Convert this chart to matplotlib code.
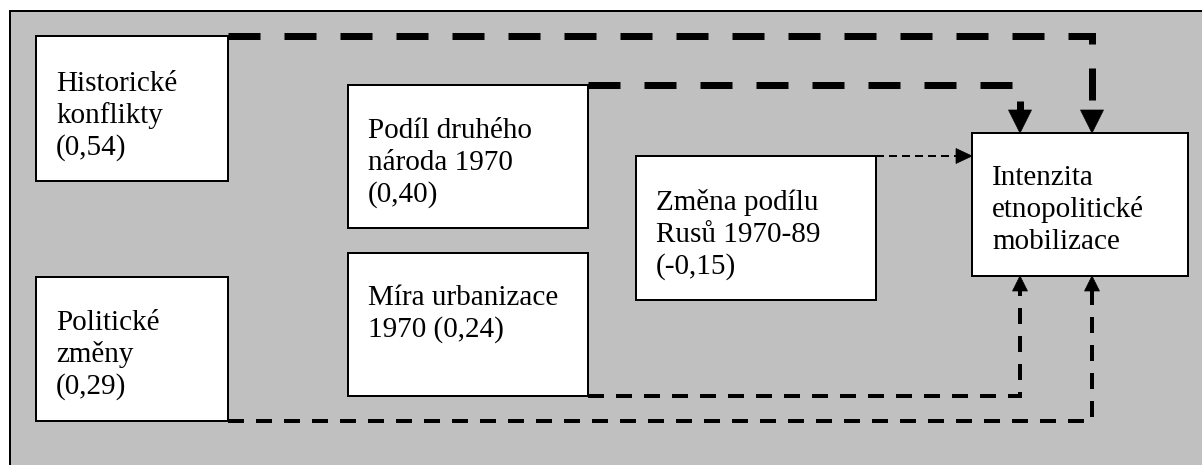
import matplotlib
matplotlib.use("Agg")
import matplotlib.pyplot as plt
from matplotlib.patches import Rectangle, Polygon

plt.rcParams['lines.scale_dashes'] = False

# ---- content (labels and path coefficients) ----
factor_names = [
    ["Historické", "konflikty"],
    ["Podíl druhého", "národa 1970"],
    ["Změna podílu", "Rusů 1970-89"],
    ["Míra urbanizace", "1970"],
    ["Politické", "změny"],
]
coefficients = ["0,54", "0,40", "-0,15", "0,24", "0,29"]
target_name = ["Intenzita", "etnopolitické", "mobilizace"]

# ---- layout (pixel coordinates, y downward) ----
W, H = 1202, 465
DPI = 100
PX = 72.0 / DPI  # px -> pt

boxes = [  # x0, y0, x1, y1, first baseline
    (36, 36, 228, 181, 91),
    (348, 85, 588, 228, 138),
    (636, 156, 876, 300, 210),
    (348, 253, 588, 396, 305),
    (36, 277, 228, 421, 330),
]
target_box = (972, 133, 1188, 276, 185)

fig = plt.figure(figsize=(W / DPI, H / DPI), dpi=DPI)
ax = fig.add_axes([0, 0, 1, 1])
ax.set_xlim(0, W)
ax.set_ylim(H, 0)
ax.axis('off')

# background frame
ax.add_patch(Rectangle((10, 11), W + 20, H + 20, facecolor='#c0c0c0',
                       edgecolor='black', linewidth=2 * PX, zorder=0))

font = dict(family=['Liberation Serif', 'DejaVu Serif'], fontsize=21,
            color='black', va='baseline', ha='left')
LS = 32

def draw_box(x0, y0, x1, y1, base, lines):
    ax.add_patch(Rectangle((x0, y0), x1 - x0, y1 - y0, facecolor='white',
                           edgecolor='black', linewidth=2 * PX, zorder=3))
    for k, t in enumerate(lines):
        ax.text(x0 + 20, base + k * LS, t, zorder=4, **font)

for i, (name, coef) in enumerate(zip(factor_names, coefficients)):
    if i == 3:
        lines = [name[0], name[1] + " (" + coef + ")"]
    else:
        lines = name + ["(" + coef + ")"]
    draw_box(*boxes[i], lines)
draw_box(*target_box, target_name)

def dashed_path(xs, ys, lw, on, off):
    ax.plot(xs, ys, color='black', linewidth=lw * PX,
            dashes=(on * PX, off * PX), dash_capstyle='butt',
            dash_joinstyle='miter', solid_joinstyle='miter', zorder=2)

def head(tip_x, tip_y, direction, length, width):
    if direction == 'down':
        pts = [(tip_x, tip_y), (tip_x - width / 2, tip_y - length), (tip_x + width / 2, tip_y - length)]
    elif direction == 'up':
        pts = [(tip_x, tip_y), (tip_x - width / 2, tip_y + length), (tip_x + width / 2, tip_y + length)]
    else:  # right
        pts = [(tip_x, tip_y), (tip_x - length, tip_y - width / 2), (tip_x - length, tip_y + width / 2)]
    ax.add_patch(Polygon(pts, closed=True, facecolor='black', edgecolor='black',
                         linewidth=0.5, zorder=2))

tx0, ty0, tx1, ty1, _ = target_box
xa, xb = 1020, 1092

# thick paths (top)
hb = boxes[0]
dashed_path([hb[2], xb, xb], [hb[1], hb[1], ty0 - 22], 7, 32, 24)
head(xb, ty0, 'down', 23, 23)
pb = boxes[1]
dashed_path([pb[2], xa, xa], [pb[1], pb[1], ty0 - 22], 7, 32, 24)
head(xa, ty0, 'down', 23, 23)

# thin path
zb = boxes[2]
dashed_path([zb[2], tx0 - 14], [zb[1], zb[1]], 2, 8, 5)
head(tx0, zb[1], 'right', 16, 15)

# medium paths (bottom)
mb = boxes[3]
dashed_path([mb[2], xa, xa], [mb[3], mb[3], ty1 + 14], 4, 16, 12)
head(xa, ty1, 'up', 15, 15)
lb = boxes[4]
dashed_path([lb[2], xb, xb], [lb[3], lb[3], ty1 + 14], 4, 16, 12)
head(xb, ty1, 'up', 15, 15)

fig.savefig('out.png', dpi=DPI)
